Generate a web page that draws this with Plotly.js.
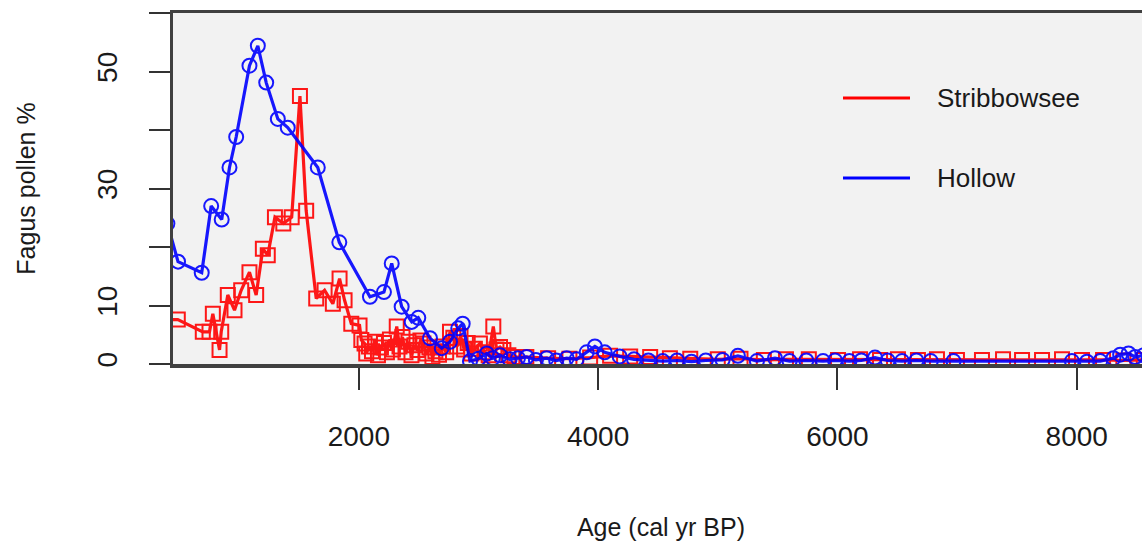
<!DOCTYPE html>
<html>
<head>
<meta charset="utf-8">
<script src="https://cdn.plot.ly/plotly-3.0.1.min.js"></script>
<style>
html, body { margin: 0; padding: 0; overflow: hidden; background: #ffffff; }
#chart { width: 1152px; height: 547px; }
</style>
</head>
<body>
<div id="chart"></div>
<script>
// ---- Data ----
const seriesNames = ["Stribbowsee", "Hollow"];

const stribAge = [380, 487, 696, 752, 780, 836, 850, 905, 961, 1017, 1086, 1142, 1198, 1239, 1299, 1369, 1439, 1508, 1560, 1644, 1714, 1783, 1839, 1881, 1937,
  2006, 2021, 2048, 2062, 2085, 2110, 2135, 2160, 2185, 2210, 2235, 2260, 2285, 2317, 2340, 2365, 2390, 2415, 2440, 2465, 2490, 2515, 2540, 2565, 2590, 2615, 2640, 2670, 2700, 2730, 2762, 2790, 2820, 2850, 2880, 2910, 2940, 2970, 3012, 3050, 3085, 3124, 3150, 3180, 3208, 3250, 3300,
  3400, 3582, 3760, 3933, 4100, 4268, 4435, 4600, 4770, 5000, 5190, 5385, 5570, 5761, 6005, 6189, 6356, 6506, 6673, 6832, 6999, 7208, 7384, 7543, 7710, 7877, 8044, 8220, 8390, 8560];
const stribPct = [7.6, 7.6, 5.5, 5.5, 8.6, 2.4, 5.5, 11.8, 9.2, 12.6, 15.7, 11.8, 19.7, 18.6, 25.1, 24.0, 25.1, 45.8, 26.2, 11.2, 12.6, 10.3, 14.6, 10.9, 6.9,
  6.6, 4.1, 3.5, 1.8, 3.0, 2.2, 3.8, 1.5, 2.8, 3.6, 2.0, 4.2, 2.5, 6.4, 3.0, 4.6, 2.0, 3.8, 1.5, 3.2, 2.4, 4.0, 3.5, 1.8, 2.8, 1.2, 2.2, 1.6, 3.0, 2.0, 5.5, 4.5, 3.0, 4.8, 2.5, 3.6, 1.8, 2.6, 3.5, 2.0, 1.5, 6.4, 2.5, 2.9, 2.4, 1.5, 1.2,
  1.2, 1.0, 0.9, 1.1, 1.4, 1.3, 1.2, 1.0, 0.9, 0.8, 0.9, 0.7, 0.8, 0.8, 0.7, 0.8, 0.7, 0.8, 0.7, 0.8, 0.7, 0.7, 0.8, 0.7, 0.7, 0.8, 0.7, 0.7, 0.6, 0.7];

const hollowAge = [400, 489, 687, 766, 854, 919, 975, 1086, 1156, 1226, 1323, 1406, 1657, 1837, 2093, 2210, 2275, 2358, 2442, 2497, 2595, 2693, 2762, 2831, 2868,
  2929, 3000, 3069, 3120, 3181, 3260, 3330, 3403, 3480, 3570, 3650, 3737, 3820, 3904, 3973, 4055, 4180, 4300, 4420, 4540, 4660, 4780, 4900, 5040, 5168, 5327, 5478, 5600, 5740, 5880, 5980, 6100, 6200, 6314, 6420, 6540, 6660, 6780, 6970,
  7960, 8085, 8196, 8307, 8363, 8433, 8488, 8560, 8650];
const hollowPct = [24.0, 17.5, 15.6, 27.0, 24.7, 33.6, 38.8, 51.0, 54.4, 48.1, 41.9, 40.4, 33.6, 20.8, 11.5, 12.3, 17.2, 9.8, 7.2, 7.9, 4.4, 2.7, 3.8, 6.1, 6.9,
  0.5, 0.9, 1.8, 1.0, 1.5, 0.8, 1.0, 1.2, 0.7, 1.0, 0.6, 1.0, 0.8, 2.0, 3.0, 2.0, 1.3, 0.8, 0.6, 0.5, 0.6, 0.4, 0.6, 0.7, 1.4, 0.5, 1.0, 0.5, 0.6, 0.5, 0.6, 0.5, 0.6, 1.1, 0.6, 0.5, 0.6, 0.5, 0.5,
  0.5, 0.4, 0.5, 1.0, 1.6, 1.8, 1.2, 1.5, 1.0];

const xTickVals = [2000, 4000, 6000, 8000];
const xTickText = ["2000", "4000", "6000", "8000"];
const yTickVals = [0, 10, 20, 30, 40, 50, 60];
const yTickText = ["0", "10", "", "30", "", "50", ""];

const xTitle = "Age (cal yr BP)";
const yTitle = "Fagus pollen %";

// ---- Styles ----
const RED = "#ff0000";
const BLUE = "#0000ff";
const FONT = "Liberation Sans, Arial, sans-serif";
const TXT = "#1a1a1a";

const traces = [
  {
    x: stribAge, y: stribPct, name: seriesNames[0], type: "scatter", mode: "lines+markers",
    line: { color: RED, width: 3.2 },
    marker: { symbol: "square-open", size: 14, color: RED, line: { width: 2 } },
    opacity: 0.9,
    showlegend: false
  },
  {
    x: hollowAge, y: hollowPct, name: seriesNames[1], type: "scatter", mode: "lines+markers",
    line: { color: BLUE, width: 3.2 },
    marker: { symbol: "circle-open", size: 14, color: BLUE, line: { width: 2 } },
    opacity: 0.9,
    showlegend: false
  }
];

// plot area: x 173..1149 px, y 13..364 px
const L = 173, R = 1149, T = 13, B = 364;
const px = v => (v - L) / (R - L);
const py = v => (B - v) / (B - T);

const layout = {
  width: 1152, height: 547,
  margin: { l: L, r: 1152 - R, t: T, b: 547 - B },
  paper_bgcolor: "#ffffff",
  plot_bgcolor: "#f2f2f2",
  font: { family: FONT, color: TXT },
  showlegend: false,
  xaxis: {
    range: [447, 8604],
    tickvals: xTickVals, ticktext: xTickText,
    ticks: "outside", ticklen: 22, tickwidth: 2, tickcolor: "#333333",
    showline: true, linewidth: 3.5, linecolor: "#404040", mirror: true,
    showgrid: false, zeroline: false,
    tickfont: { family: FONT, size: 28, color: TXT },
    ticklabelstandoff: 23,
    title: { text: xTitle, font: { family: FONT, size: 25, color: TXT }, standoff: 68 },
    automargin: false
  },
  yaxis: {
    range: [0, 60],
    tickvals: yTickVals, ticktext: yTickText,
    tickangle: -90,
    ticks: "outside", ticklen: 21, tickwidth: 2, tickcolor: "#333333",
    showline: true, linewidth: 3.5, linecolor: "#404040", mirror: true,
    showgrid: false, zeroline: false,
    tickfont: { family: FONT, size: 28, color: TXT },
    ticklabelstandoff: 20,
    title: { text: yTitle, font: { family: FONT, size: 25, color: TXT }, standoff: 50 },
    automargin: false
  },
  shapes: [
    { type: "line", xref: "paper", yref: "paper", x0: px(843), x1: px(910), y0: py(98), y1: py(98), line: { color: RED, width: 3 } },
    { type: "line", xref: "paper", yref: "paper", x0: px(843), x1: px(910), y0: py(178), y1: py(178), line: { color: BLUE, width: 3 } }
  ],
  annotations: [
    { xref: "paper", yref: "paper", x: px(935), y: py(98), xanchor: "left", yanchor: "middle", showarrow: false, text: seriesNames[0], font: { family: FONT, size: 26, color: TXT } },
    { xref: "paper", yref: "paper", x: px(935), y: py(178), xanchor: "left", yanchor: "middle", showarrow: false, text: seriesNames[1], font: { family: FONT, size: 26, color: TXT } }
  ]
};

Plotly.newPlot("chart", traces, layout, { displayModeBar: false, staticPlot: true });
</script>
</body>
</html>
